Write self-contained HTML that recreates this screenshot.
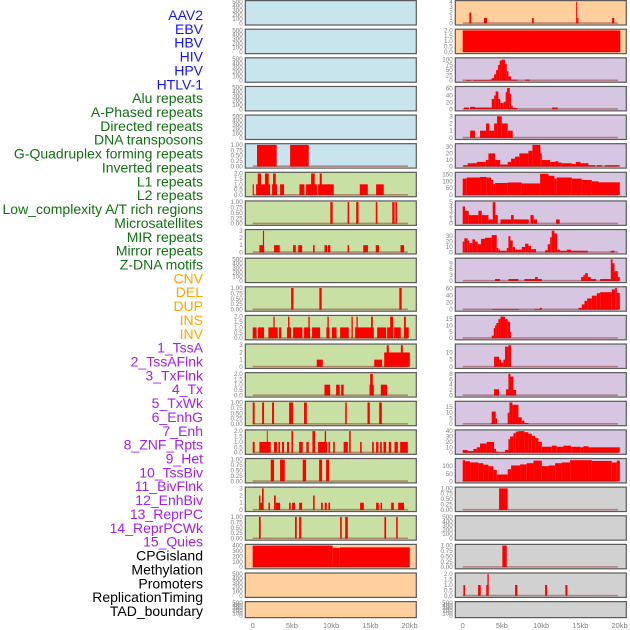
<!DOCTYPE html>
<html><head><meta charset="utf-8"><style>
html,body{margin:0;padding:0;background:#fff;width:630px;height:630px;overflow:hidden}
svg{display:block}
text{font-family:"Liberation Sans",sans-serif}
</style></head><body>
<svg id="chart" width="630" height="630" viewBox="0 0 630 630" xmlns="http://www.w3.org/2000/svg"></svg>
<script>
const trackNames=["AAV2","EBV","HBV","HIV","HPV","HTLV-1","Alu repeats","A-Phased repeats","Directed repeats","DNA transposons","G-Quadruplex forming repeats","Inverted repeats","L1 repeats","L2 repeats","Low_complexity A/T rich regions","Microsatellites","MIR repeats","Mirror repeats","Z-DNA motifs","CNV","DEL","DUP","INS","INV","1_TssA","2_TssAFlnk","3_TxFlnk","4_Tx","5_TxWk","6_EnhG","7_Enh","8_ZNF_Rpts","9_Het","10_TssBiv","11_BivFlnk","12_EnhBiv","13_ReprPC","14_ReprPCWk","15_Quies","CPGisland","Methylation","Promoters","ReplicationTiming","TAD_boundary"];
const trackGroups=["virus","virus","virus","virus","virus","virus","repeat","repeat","repeat","repeat","repeat","repeat","repeat","repeat","repeat","repeat","repeat","repeat","repeat","sv","sv","sv","sv","sv","chrom","chrom","chrom","chrom","chrom","chrom","chrom","chrom","chrom","chrom","chrom","chrom","chrom","chrom","chrom","other","other","other","other","other"];
const trackYmax=[500,500,500,500,500,1,2,1,3,500,1,2,3,2,1,2,1,3,1,400,500,500,4,2,103,63,3,33,157,5,40,11,62,17,15,8,19,40,143,1,500,1,2,500];
const T500=["0","100","200","300","400","500"],T1=["0.00","0.25","0.50","0.75","1.00"],T2=["0.0","0.5","1.0","1.5","2.0"];
const trackTicks=[T500,T500,T500,T500,T500,T1,T2,T1,["0","1","2","3"],T500,T1,T2,["0","1","2","3"],T2,T1,T2,T1,["0","1","2","3"],T1,["0","100","200","300","400"],T500,T500,
["0","1","2","3","4"],T2,["0","25","50","75","100"],["0","20","40","60"],["0","1","2","3"],["0","10","20","30"],["0","50","100","150"],["0","1","2","3","4","5"],["0","10","20","30"],["0","3","6","9"],["0","20","40","60"],["0","5","10","15"],["0","5","10"],["0","2","4","6","8"],["0","5","10","15"],["0","10","20","30","40"],["0","50","100"],T1,T500,T1,T2,T500];
const trackSegments=[
[],[],[],[],[],
[[0.55,3.06,1],[4.77,7.15,1]],
[[0,0.15,1],[0.43,2.21,1],[0.64,1.06,2],[1.57,2.04,2],[2.47,3.1,1],[2.6,2.94,2],[3.49,4.0,1],[5.96,6.6,1],[6.81,8.21,1],[7.45,7.91,2],[8.34,10.34,1],[8.55,8.81,2],[13.66,14.68,1],[15.74,16.72,1]],
[[9.9,10.2,1],[12.1,12.3,1],[13.2,13.5,1],[15.7,15.9,1],[17.8,18.1,1],[18.2,18.4,1]],
[[0.85,1.45,1],[1.3,1.45,3],[2.72,3.45,1],[5.15,5.5,1],[5.8,6.3,1],[7.7,7.9,1],[9.15,9.5,1],[9.6,9.9,1],[12.1,12.3,1],[14.1,14.7,1],[15.7,16.1,1],[18.85,19.3,1]],
[],
[[4.9,5.2,1],[8.5,8.8,1],[18.7,19.0,1]],
[[0,0.5,1],[0.68,1.45,1],[2.0,3.2,1],[3.36,3.66,1],[4.38,4.9,1],[5.15,6.34,1],[6.55,7.32,1],[7.57,8.6,1],[9.4,9.8,1],[10.1,10.7,1],[11.15,12.26,1],[12.6,12.77,2],[13.06,15.45,1],[15.87,17.02,1],[17.15,17.66,1],[18.04,18.89,1],[19.28,19.9,1],[2.64,2.8,2],[4.51,4.68,2],[7.1,7.27,2],[9.53,9.7,2],[13.23,13.4,2],[15.1,15.32,2],[17.53,17.91,2],[19.3,19.53,2]],
[[8.17,8.94,1],[15.5,16.5,1],[16.77,20.04,2],[17.1,17.36,3],[18.9,19.15,3]],
[[9.15,9.87,1],[10.64,11.1,1],[11.28,11.6,1],[14.9,15.45,1],[14.98,15.32,2],[16.34,17.15,1]],
[[0,0.25,1],[1.2,1.45,1],[2.47,2.72,1],[4.64,5.15,1],[6.55,6.9,1],[11.8,12.0,1],[14.64,14.94,1],[16.13,16.47,1]],
[[0,0.25,1],[0.85,2.3,1],[1.8,1.92,2],[2.72,3.1,1],[3.28,3.49,1],[3.74,4.0,1],[4.38,4.64,1],[4.94,5.15,2],[5.92,6.38,1],[6.85,7.15,1],[7.62,7.96,2],[8.34,9.49,1],[9.19,9.36,2],[9.66,9.87,1],[10.26,10.47,1],[11.6,12.13,1],[12.3,12.5,2],[13.7,13.9,1],[15.23,15.45,1],[15.74,16.04,1],[16.26,16.47,1],[16.68,17.02,1],[17.36,17.66,1],[18.09,18.51,1],[18.81,19.79,1]],
[[2.3,2.72,1],[3.49,4.09,1],[6.38,6.81,1],[8.47,8.85,1],[9.36,9.74,1]],
[[0.8,0.98,2],[0.98,1.19,1],[1.19,1.4,3],[2.0,2.2,1],[2.72,2.94,2],[2.94,3.49,1],[4.64,4.85,1],[5.02,5.4,1],[5.92,6.3,1],[7.7,7.9,2],[8.72,8.94,1],[9.19,9.45,1],[9.66,9.87,1],[13.7,14.17,1],[15.74,16.09,1],[16.3,16.5,1],[17.66,18.0,1],[18.55,19.3,1]],
[[0.8,1.02,1],[5.4,5.62,1],[5.92,6.2,1],[11.15,11.36,1],[11.8,12.13,1],[16.8,17.02,1],[18.3,18.5,1]],
[[0,10.2,400],[10.2,11.1,355],[11.1,20.04,367]],
[],[],
[[0.85,1.1,2],[2.72,3.1,1],[8.85,9.06,1],[14.47,14.6,4],[14.6,14.77,1],[19.06,19.32,1]],
[[0,20.1,2]],
[[0.43,1.1,3],[1.36,3.4,3],[3.4,3.7,5],[3.7,4.0,12],[4.0,4.26,30],[4.26,4.5,50],[4.5,4.72,75],[4.72,4.94,95],[4.94,5.4,100],[5.4,5.62,80],[5.62,5.83,45],[5.83,6.17,20],[6.17,6.98,5],[7.96,8.55,5]],
[[0.17,0.8,5],[0.94,1.57,7],[1.57,3.7,5],[3.7,4.0,30],[4.0,4.2,40],[4.2,4.55,52],[4.55,4.8,30],[4.8,5.23,18],[5.23,5.49,22],[5.49,5.66,50],[5.66,6.0,62],[6.0,6.17,45],[6.17,6.38,10],[6.38,6.98,4],[11.4,12.13,5]],
[[0.94,1.57,1],[2.21,2.98,1],[2.98,3.4,2],[3.4,4.0,1],[4.0,4.38,2],[4.38,4.98,3],[4.98,5.74,2],[5.74,6.38,1]],
[[0.09,0.64,2],[0.64,1.79,5],[1.79,2.94,7],[2.94,3.28,10],[3.28,4.13,20],[4.13,4.77,10],[4.77,5.74,3],[5.74,6.17,7],[6.17,6.68,12],[6.68,7.23,15],[7.23,8.38,20],[8.38,8.89,24],[8.89,9.91,33],[9.91,10.09,20],[10.09,11.15,10],[11.15,11.79,7],[11.79,12.21,8],[12.21,12.64,6],[12.64,13.91,5],[13.91,14.43,4],[14.43,15.02,7],[15.02,16.04,5],[16.04,16.89,2],[17.11,17.74,2],[18.17,20.04,2]],
[[0,0.51,120],[0.51,2.21,128],[2.21,3.06,132],[3.06,3.62,128],[3.62,3.91,110],[3.91,4.13,80],[4.13,5.74,88],[5.74,7.53,92],[7.53,9.87,85],[9.87,10.94,155],[10.94,11.7,140],[11.7,12.0,120],[12.0,13.91,128],[13.91,15.19,120],[15.19,16.47,110],[16.47,17.32,100],[17.32,20.04,93]],
[[0,0.3,4],[0.3,0.77,3],[0.77,2.0,2],[2.0,2.43,3],[2.43,3.28,2],[3.28,3.83,1],[3.83,4.17,5],[4.17,4.47,2],[4.81,6.17,1],[6.17,6.51,2],[6.51,8.43,1],[8.64,9.06,2],[9.06,9.49,1],[11.91,12.38,1]],
[[0,0.21,20],[0.21,0.64,26],[0.64,0.85,22],[0.85,1.23,17],[1.23,1.57,24],[1.57,1.91,20],[1.91,2.34,15],[2.34,2.85,25],[2.85,3.7,27],[3.7,4.34,32],[4.34,4.55,8],[4.55,4.77,5],[4.77,5.62,3],[5.62,5.83,8],[5.83,6.09,30],[6.09,6.38,22],[6.38,6.68,10],[6.68,7.53,5],[7.53,7.96,10],[7.96,8.38,16],[8.38,8.72,12],[8.72,9.36,6],[10.51,10.85,4],[10.85,11.15,15],[11.15,11.36,28],[11.36,11.7,40],[11.7,12.04,35],[12.04,12.43,5],[12.43,13.28,3],[13.28,13.83,5],[13.83,15.96,3],[18.89,19.36,3]],
[[4.13,4.77,1],[5.83,7.11,1],[7.87,9.23,1],[9.23,9.57,2],[9.57,10.09,1],[15.11,15.4,2],[15.4,15.62,3],[15.62,15.96,4],[15.96,16.34,2],[16.34,17.02,1],[17.53,18.89,1],[18.89,19.11,11],[19.11,19.36,9],[19.36,19.79,5],[19.79,20.04,2]],
[[3.79,7.19,2],[9.15,9.83,2],[9.83,10.09,5],[14.77,15.19,5],[15.19,15.53,15],[15.53,15.87,25],[15.87,16.47,32],[16.47,17.11,40],[17.11,17.53,47],[17.53,17.96,50],[17.96,19.02,50],[19.02,19.45,58],[19.45,19.66,62],[19.66,20.04,48]],
[[3.7,3.96,2],[3.96,4.13,8],[4.13,4.3,10],[4.3,4.55,12],[4.55,4.81,15],[4.81,5.4,17],[5.4,5.74,15],[5.74,6.04,13],[6.04,6.17,5]],
[[4.0,4.64,7],[4.64,4.89,5],[4.89,5.19,3],[5.19,5.4,5],[5.4,5.83,14],[5.83,6.17,15]],
[[4.0,4.64,2.3],[5.53,5.83,2.3],[5.83,6.09,8],[6.09,6.47,7],[6.47,6.81,2]],
[[3.57,3.7,1],[3.7,4.21,11],[4.21,4.38,5],[5.74,5.96,10],[5.96,6.34,19],[6.34,7.11,17],[7.11,7.53,6],[7.53,7.87,3],[7.87,8.38,1]],
[[0,0.64,5],[0.64,1.36,3],[1.36,1.79,7],[1.79,2.21,10],[2.21,3.06,17],[3.06,4.0,20],[4.0,4.26,7],[4.26,4.55,2],[4.55,5.4,1],[5.4,5.83,5],[5.83,6.04,25],[6.04,6.47,30],[6.47,6.77,36],[6.77,7.11,39],[7.11,7.87,40],[7.87,8.38,38],[8.38,8.81,35],[8.81,9.23,31],[9.23,9.66,27],[9.66,10.09,20],[10.09,11.36,11],[11.36,12.0,13],[12.0,12.85,11],[12.85,13.83,13],[13.83,14.98,11],[14.98,15.4,10],[15.4,16.04,12],[16.04,20.04,10]],
[[0,0.3,140],[0.3,0.94,133],[0.94,2.0,125],[2.0,2.64,120],[2.64,3.28,110],[3.28,3.91,100],[3.91,4.34,75],[4.34,5.74,45],[5.74,6.17,80],[6.17,7.32,105],[7.32,8.17,112],[8.17,9.02,120],[9.02,10.09,137],[10.09,10.94,100],[10.94,11.79,105],[11.79,12.64,120],[12.64,13.7,125],[13.7,16.47,140],[16.47,19.02,135],[19.02,19.66,125],[19.66,20.04,137]],
[[4.64,5.74,1]],
[],
[[5.06,5.62,1]],
[[0.09,0.3,1],[1.96,2.3,1],[3.0,3.15,1],[3.15,3.32,2],[6.68,6.98,1],[10.51,10.77,1],[13.1,13.36,1]],
[]
];
const xTickValues=[0,5,10,15,20];
const xTickLabels=["0","5kb","10kb","15kb","20kb"];

const groupLabelColor={virus:"#1414ff",repeat:"#117011",sv:"#ffa500",chrom:"#a020f0",other:"#000000"};
const groupBg={virus:"#c8e4ec",repeat:"#c9e0a4",sv:"#ffcf9e",chrom:"#d6c6e1",other:"#d1d1d1"};
const NS="http://www.w3.org/2000/svg";
const svg=document.getElementById('chart');
function mk(tag,attrs,parent){const e=document.createElementNS(NS,tag);for(const k in attrs)e.setAttribute(k,attrs[k]);(parent||svg).appendChild(e);return e;}
const PITCH=28.62, PW=171, COLX=[245.3,455.3], X0=[252.7,462.7], KB=7.84;
function xScale(col,kb){return X0[col]+kb*KB;}

// labels
trackNames.forEach((n,i)=>{
  const t=mk('text',{x:203,y:(20+i*13.86).toFixed(2),'text-anchor':'end','font-size':'14',fill:groupLabelColor[trackGroups[i]]});
  
  
  t.textContent=n;
});

trackNames.forEach((n,t)=>{
  const col=t<22?0:1,row=t%22;
  const top=row*PITCH+0.6,h=(row===21?16:24.4);
  const g=mk('g',{});
  
  
  mk('rect',{x:COLX[col],y:top,width:PW,height:h,fill:groupBg[trackGroups[t]]},g);
  const yTop=top+1.2,yBot=top+h-1.6,ymax=trackYmax[t];
  const yScale=v=>yBot-(v/ymax)*(yBot-yTop);
  const segs=trackSegments[t];
  segs.forEach(s=>{
    const x1=xScale(col,s[0]),x2=xScale(col,s[1]);
    const r=mk('rect',{x:x1.toFixed(2),y:yScale(s[2]).toFixed(2),width:Math.max(0.8,x2-x1).toFixed(2),height:(yBot-yScale(s[2])).toFixed(2),fill:'#ff0000'},g);
    
    
  });
  if(segs.length){
    const b=mk('line',{x1:xScale(col,0),x2:xScale(col,19.8),y1:yBot-0.3,y2:yBot-0.3,stroke:'rgba(140,30,30,0.45)','stroke-width':1.6},g);
    
    
  }
  mk('rect',{x:COLX[col],y:top,width:PW,height:h,fill:'none',stroke:'#5a5a5a','stroke-width':1.2},g);
  const ticks=trackTicks[t];
  ticks.forEach(lab=>{
    const v=parseFloat(lab);
    const tx=mk('text',{x:COLX[col]-2.5,y:(yScale(v)+2).toFixed(2),'text-anchor':'end','font-size':'6.3',fill:'#808080'},g);
    
    
    tx.textContent=lab;
  });
});

[0,1].forEach(col=>{
  xTickValues.forEach((v,i)=>{
    const tx=mk('text',{x:xScale(col,v).toFixed(2),y:628,'text-anchor':'middle','font-size':'7.5',fill:'#808080'});
    
    
    tx.textContent=xTickLabels[i];
  });
});
</script>
</body></html>
